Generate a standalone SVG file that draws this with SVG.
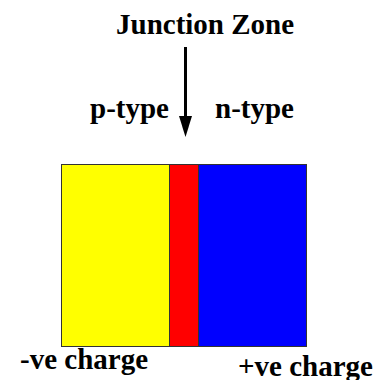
<svg xmlns="http://www.w3.org/2000/svg" width="388" height="380" viewBox="0 0 388 380">
<rect width="388" height="380" fill="#fff"/>
<text x="116" y="34" font-family="Liberation Serif" font-weight="bold" font-size="29">Junction Zone</text>
<text x="90" y="118" font-family="Liberation Serif" font-weight="bold" font-size="29">p-type</text>
<text x="215" y="118" font-family="Liberation Serif" font-weight="bold" font-size="29">n-type</text>
<text x="20" y="369" font-family="Liberation Serif" font-weight="bold" font-size="29">-ve charge</text>
<text x="238" y="376" font-family="Liberation Serif" font-weight="bold" font-size="29">+ve charge</text>
<g id="connectors">
<line x1="185.5" y1="47" x2="185.5" y2="118" stroke="#000" stroke-width="3"/>
<polygon points="179,116 192,116 185.5,137" fill="#000"/>
</g>
<g stroke="#333" stroke-width="1">
<g id="p-region"><rect x="61.5" y="164.5" width="108" height="182" fill="#ffff00"/></g>
<g id="junction"><rect x="169.5" y="164.5" width="29" height="182" fill="#ff0000"/></g>
<g id="n-region"><rect x="198.5" y="164.5" width="108" height="182" fill="#0000ff"/></g>
</g>
</svg>
